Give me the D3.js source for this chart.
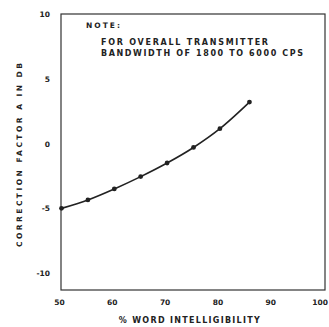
<!DOCTYPE html>
<html>
<head>
<meta charset="utf-8">
<script src="https://cdn.jsdelivr.net/npm/d3@7"></script>
<style>
  body { margin: 0; background: #fff; }
  svg text { font-family: "DejaVu Sans", sans-serif; font-weight: bold; fill: #222; }
</style>
</head>
<body>
<div id="chart"></div>
<script>
// values
let intelligibility = [50, 55, 60, 65, 70, 75, 80, 85.6];
let correction = [-5, -4.35, -3.5, -2.55, -1.5, -0.3, 1.15, 3.2];
let xTicks = [50, 60, 70, 80, 90, 100];
let yTicks = [10, 5, 0, -5, -10];
let noteLines = ["FOR OVERALL TRANSMITTER", "BANDWIDTH OF 1800 TO 6000 CPS"];
let noteWidths = [167, 202];

function graph(id) {
    let width = 329, height = 327;
    let left = 61, right = 325, top = 14, bottom = 290;

    let svg = d3.select(id)
        .append("svg")
        .attr("width", width)
        .attr("height", height);

    let x = d3.scaleLinear().domain([50, 100]).range([left + 0.5, right + 0.5]);
    let y = d3.scaleLinear().domain([-11.3, 10]).range([bottom, top]);

    // frame
    svg.append("rect")
        .attr("x", left)
        .attr("y", top)
        .attr("width", right - left)
        .attr("height", bottom - top)
        .attr("fill", "none")
        .attr("stroke", "#333")
        .attr("stroke-width", 1.2);

    // tick labels (no tick marks on the original); 100 sits right at the edge
    svg.selectAll(".xt")
        .data(xTicks)
        .enter()
        .append("text")
        .attr("class", "xt")
        .attr("x", (d) => d === 100 ? width - 1 : x(d) - 2)
        .attr("y", 305)
        .attr("text-anchor", (d) => d === 100 ? "end" : "middle")
        .style("font-size", "7.5px")
        .text((d) => d);

    svg.selectAll(".yt")
        .data(yTicks)
        .enter()
        .append("text")
        .attr("class", "yt")
        .attr("x", 50)
        .attr("y", (d) => y(d) + 3)
        .attr("text-anchor", "end")
        .style("font-size", "7.5px")
        .text((d) => d < 0 ? "-" + Math.abs(d) : d);

    // axis titles
    svg.append("text")
        .attr("x", 190)
        .attr("y", 323)
        .attr("text-anchor", "middle")
        .style("font-size", "8px")
        .style("letter-spacing", "1.3px")
        .text("% WORD INTELLIGIBILITY");

    svg.append("text")
        .attr("transform", "translate(22,155) rotate(-90)")
        .attr("text-anchor", "middle")
        .attr("textLength", 184)
        .attr("lengthAdjust", "spacing")
        .style("font-size", "7.5px")
        .text("CORRECTION FACTOR A IN DB");

    // note
    svg.append("text")
        .attr("x", 86)
        .attr("y", 28)
        .attr("textLength", 34)
        .attr("lengthAdjust", "spacing")
        .style("font-size", "7.5px")
        .text("NOTE:");

    svg.selectAll(".note")
        .data(noteLines)
        .enter()
        .append("text")
        .attr("class", "note")
        .attr("x", 101)
        .attr("y", (d, i) => 45 + i * 11)
        .attr("textLength", (d, i) => noteWidths[i])
        .attr("lengthAdjust", "spacing")
        .style("font-size", "8px")
        .text((d) => d);

    let data = intelligibility.map((d, i) => ({ x: d, y: correction[i] }));

    let line = d3.line()
        .x((d) => x(d.x))
        .y((d) => y(d.y))
        .curve(d3.curveCatmullRom);

    svg.append("path")
        .datum(data)
        .attr("d", line)
        .attr("fill", "none")
        .attr("stroke", "#222")
        .attr("stroke-width", 1.6);

    svg.selectAll("circle")
        .data(data)
        .enter()
        .append("circle")
        .attr("cx", (d) => x(d.x))
        .attr("cy", (d) => y(d.y))
        .attr("r", 2.4)
        .attr("fill", "#222");
}

graph("#chart");
</script>
</body>
</html>
